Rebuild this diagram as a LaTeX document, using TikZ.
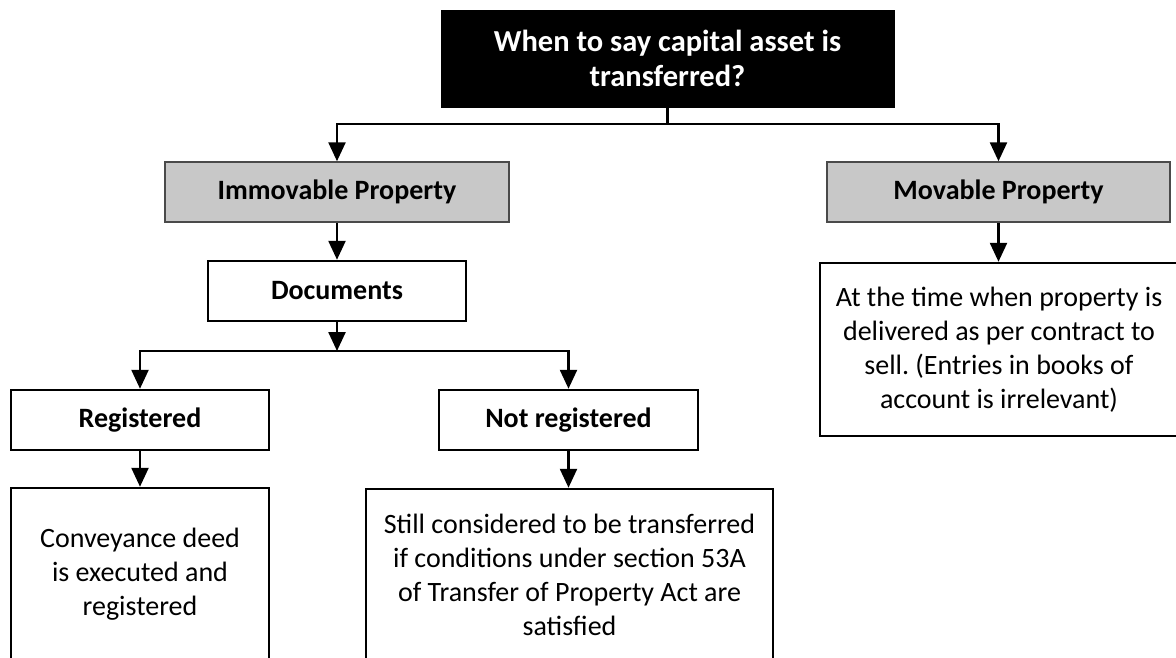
\documentclass[tikz,border=0pt]{standalone}
\usepackage{fontspec}
\setmainfont{Carlito}
\usetikzlibrary{arrows.meta}
\definecolor{boxgray}{HTML}{C8C8C8}
\definecolor{edgegray}{HTML}{4A4A4A}
\frenchspacing
\begin{document}
\begin{tikzpicture}[x=1pt,y=-1pt,
  base/.style={rectangle, inner sep=0pt, align=center, font=\frenchspacing\fontsize{28}{34}\selectfont},
  titlebox/.style={base, fill=black, draw=black, text=white, font=\fontsize{30.5}{35}\selectfont\bfseries},
  graybox/.style={base, fill=boxgray, draw=edgegray, line width=1.5pt, font=\fontsize{28}{34}\selectfont\bfseries},
  headbox/.style={base, fill=white, draw=black, line width=2.5pt, font=\fontsize{28}{34}\selectfont\bfseries},
  textbox/.style={base, fill=white, draw=black, line width=2.5pt},
  conn/.style={line width=2.5pt, draw=black},
  arr/.style={conn, -{Triangle[width=17pt,length=19pt]}}
]
\useasboundingbox (0,0) rectangle (1176,657);
\clip (0,0) rectangle (1176,657);
\fill[white] (0,0) rectangle (1176,657);

\node[titlebox, minimum width=453pt, minimum height=97pt] (title) at (667.5,58.5)
  {When to say capital asset is\\transferred?};
\node[graybox, minimum width=344pt, minimum height=60pt] (imm) at (337,192) {Immovable Property};
\node[graybox, minimum width=343pt, minimum height=60pt] (mov) at (998.5,192) {Movable Property};
\node[headbox, minimum width=258pt, minimum height=60pt] (docs) at (337,291) {Documents};
\node[headbox, minimum width=258pt, minimum height=60pt] (reg) at (140,420) {Registered};
\node[headbox, minimum width=259pt, minimum height=60pt] (notreg) at (568.5,420) {Not registered};
\node[textbox, minimum width=258pt, minimum height=172pt] (conv) at (140,574)
  {Conveyance deed\\is executed and\\registered};
\node[textbox, minimum width=407pt, minimum height=171pt] (still) at (569.5,574.5)
  {Still considered to be transferred\\if conditions under section 53A\\of Transfer of Property Act are\\satisfied};
\node[textbox, minimum width=358pt, minimum height=173pt] (attime) at (999,349.5)
  {At the time when property is\\delivered as per contract to\\sell. (Entries in books of\\account is irrelevant)};

\coordinate (j1) at (667.5,124);
\coordinate (j2) at (337,351);

\draw[conn] (title) -- (j1);
\draw[arr] (j1) -| (imm);
\draw[arr] (j1) -| (mov);
\draw[arr] (imm) -- (docs);
\draw[arr] (docs) -- (j2);
\draw[arr] (j2) -| (reg);
\draw[arr] (j2) -| (notreg);
\draw[arr] (reg) -- (conv);
\draw[arr] (notreg) -- (notreg |- still.north);
\draw[arr] (mov) -- (mov |- attime.north);
\end{tikzpicture}
\end{document}
